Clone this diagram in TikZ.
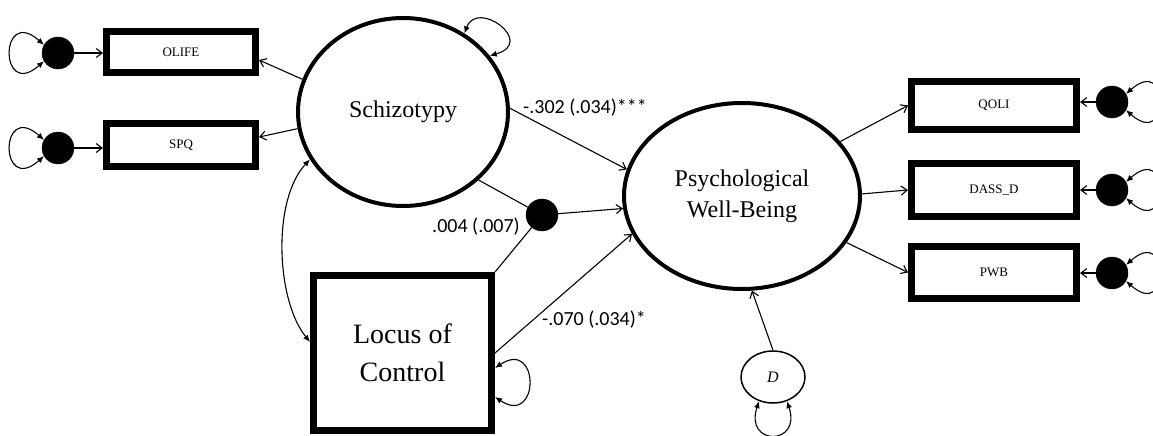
\documentclass[tikz,border=0pt]{standalone}
\usepackage{fontspec}
\setmainfont{Liberation Serif}
\newfontfamily\labfont{Carlito}
\usetikzlibrary{arrows.meta,shapes.geometric,calc}
\begin{document}
\begin{tikzpicture}[x=1pt,y=-1pt,
  latent/.style={draw,ellipse,line width=4pt,inner sep=0pt,align=center,font=\fontsize{24}{31}\selectfont},
  obsbox/.style={draw,rectangle,line width=7pt,inner sep=0pt,font=\fontsize{13}{15}\selectfont},
  errdot/.style={circle,fill=black,draw=black,inner sep=0pt,minimum size=32pt},
  regr/.style={line width=1.1pt,-{Straight Barb[length=6pt,width=9pt]}},
  link/.style={line width=1.1pt},
  selfloop/.style={line width=1.1pt,{Latex[length=7pt,width=6pt]}-{Latex[length=7pt,width=6pt]}},
  coef/.style={font=\labfont\fontsize{20}{24}\selectfont,inner sep=0pt}
]
\useasboundingbox (0,0) rectangle (1153,436);
% latent variables
\node[latent,minimum width=210pt,minimum height=188pt] (schizo) at (403,112) {Schizotypy};
\node[latent,minimum width=236pt,minimum height=186pt] (pwb) at (742,196) {Psychological\\Well-Being};
\node[draw,ellipse,line width=1.5pt,minimum width=64pt,minimum height=52pt,inner sep=0pt,font=\itshape\fontsize{16}{18}\selectfont] (D) at (773,377) {D};
% observed
\node[obsbox,minimum width=149pt,minimum height=41pt] (olife) at (181,52) {OLIFE};
\node[obsbox,minimum width=149pt,minimum height=43pt] (spq) at (181,145) {SPQ};
\node[obsbox,minimum width=165pt,minimum height=48pt] (qoli) at (994,105.5) {QOLI};
\node[obsbox,minimum width=165pt,minimum height=53pt] (dass) at (994,190) {DASS\_D};
\node[obsbox,minimum width=165pt,minimum height=52pt] (pwbbox) at (994,272.5) {PWB};
\node[draw,line width=7pt,minimum width=178pt,minimum height=155pt,align=center,inner sep=0pt,font=\fontsize{28}{38}\selectfont] (loc) at (402.5,353) {Locus of\\Control};
% dots
\node[errdot] (e1) at (58,53) {};
\node[errdot] (e2) at (58,148) {};
\node[errdot] (m) at (542,215) {};
\node[errdot] (e3) at (1112,102) {};
\node[errdot] (e4) at (1112,190) {};
\node[errdot] (e5) at (1112,273) {};
% measurement paths
\draw[regr] (e1) -- (e1 -| olife.west);
\draw[regr] (e2) -- (e2 -| spq.west);
\draw[regr] (schizo.162) -- ([yshift=-8pt]olife.east);
\draw[regr] (schizo.189) -- ([yshift=8pt]spq.east);
\draw[regr] (pwb.29) -- (qoli.west);
\draw[regr] (pwb.1) -- (dass.west);
\draw[regr] (pwb.336) -- (pwbbox.west);
\draw[regr] (e3) -- (e3 -| qoli.east);
\draw[regr] (e4) -- (e4 -| dass.east);
\draw[regr] (e5) -- (e5 -| pwbbox.east);
% structural paths
\draw[regr] (schizo.2) -- (pwb.167);
\draw[link] (schizo.318) -- (m);
\draw[link] (loc.north east) -- (m);
\draw[regr] (m) -- (pwb.186);
\draw[regr] (loc.east) -- (pwb.199);
\draw[regr] (D.north) -- (pwb.276);
% covariance
\draw[selfloop] (schizo.207) .. controls (272,200) and (276,300) .. ([yshift=11pt]loc.west);
% self loops
\draw[selfloop] (e1.150) .. controls +(-45,-40) and +(-45,40) .. (e1.210);
\draw[selfloop] (e2.150) .. controls +(-45,-40) and +(-45,40) .. (e2.210);
\draw[selfloop] (e3.30) .. controls +(45,-40) and +(45,40) .. (e3.330);
\draw[selfloop] (e4.30) .. controls +(45,-40) and +(45,40) .. (e4.330);
\draw[selfloop] (e5.30) .. controls +(45,-40) and +(45,40) .. (e5.330);
\draw[selfloop] (schizo.52) .. controls +(13,-35) and +(47,-13) .. (schizo.33);
\draw[selfloop] ([yshift=-15pt]loc.east) .. controls +(45,-30) and +(45,30) .. ([yshift=-44pt]loc.east);
\draw[selfloop] (D.240) .. controls +(-15,45) and +(15,45) .. (D.300);
% coefficients
\node[coef,anchor=west] (c1) at (523,108) {-.302 (.034)***};
\node[coef,anchor=east] (c2) at (520,227) {.004 (.007)};
\node[coef,anchor=west] (c3) at (542,320) {-.070 (.034)*};
\end{tikzpicture}
\end{document}
